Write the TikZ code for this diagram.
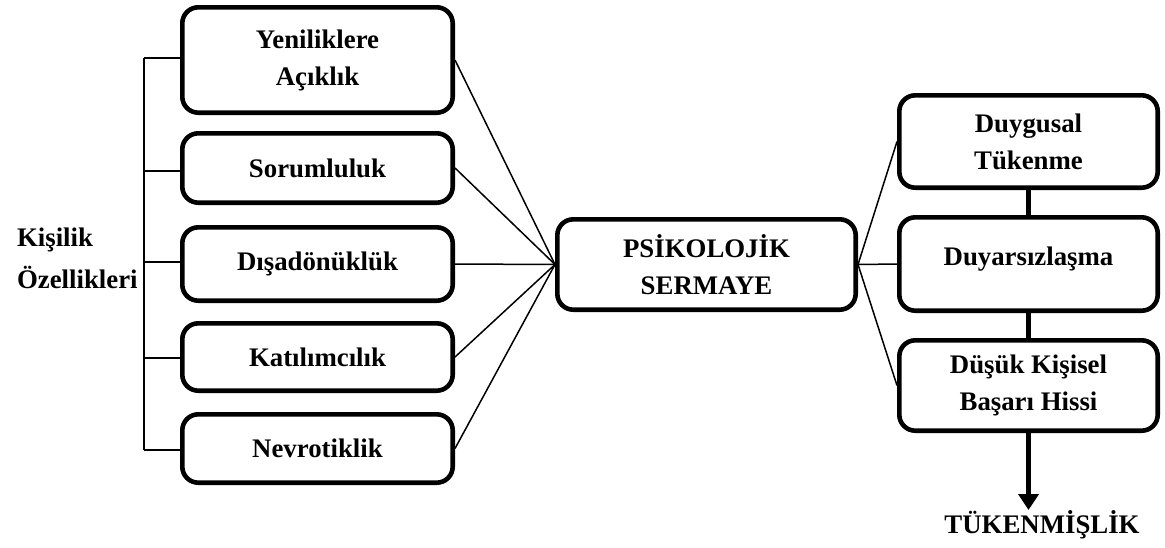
\documentclass[tikz,border=0pt]{standalone}
\usepackage{fontspec}
\setmainfont{Liberation Serif}
\usetikzlibrary{arrows.meta}
\begin{document}
\begin{tikzpicture}[x=0.5pt,y=-0.5pt,
  txt/.style={font=\bfseries\fontsize{13.4}{18.5}\selectfont},
  box/.style={txt,draw,line width=2.3pt,rounded corners=8pt,align=center,inner sep=0pt},
  leftbox/.style={box,minimum width=135.2pt},
  rightbox/.style={box,minimum width=129.2pt},
  thinlink/.style={line width=0.75pt},
  thicklink/.style={line width=2.2pt}]
\useasboundingbox (0,0) rectangle (1165,547);

% personality traits
\node[leftbox,minimum height=52.7pt] (yen) at (317.5,60)  {Yeniliklere\\Açıklık};
\node[leftbox,minimum height=34.7pt] (sor) at (317.5,168) {Sorumluluk};
\node[leftbox,minimum height=36.7pt] (dis) at (317.5,264) {Dışadönüklük};
\node[leftbox,minimum height=33.7pt] (kat) at (317.5,357) {Katılımcılık};
\node[leftbox,minimum height=34.2pt] (nev) at (317.5,448.5) {Nevrotiklik};

\node[txt,anchor=west,align=left,font=\bfseries\fontsize{13.4}{21}\selectfont] (kis) at (10,258) {Kişilik\\Özellikleri};

% psychological capital
\node[box,minimum width=149.2pt,minimum height=45.2pt] (psi) at (706.5,264.5) {PSİKOLOJİK\\SERMAYE};

% burnout dimensions
\node[rightbox,minimum height=46.2pt] (duy) at (1028.5,141.5) {Duygusal\\Tükenme};
\node[rightbox,minimum height=46.7pt] (dyr) at (1028.5,264) {\raisebox{8pt}{Duyarsızlaşma}};
\node[rightbox,minimum height=45.2pt] (dus) at (1028.5,385.5) {Düşük Kişisel\\Başarı Hissi};

\node[txt] (tuk) at (1042,525) {TÜKENMİŞLİK};
\coordinate (tip) at (1028.5,510);

% bracket on the left
\coordinate (b1) at (144,58);
\coordinate (b2) at (144,171);
\coordinate (b3) at (144,262);
\coordinate (b4) at (144,358);
\coordinate (b5) at (144,450);
\draw[thinlink] (b1) -- (b5);
\draw[thinlink] (b1) -- (b1 -| yen.west);
\draw[thinlink] (b2) -- (b2 -| sor.west);
\draw[thinlink] (b3) -- (b3 -| dis.west);
\draw[thinlink] (b4) -- (b4 -| kat.west);
\draw[thinlink] (b5) -- (b5 -| nev.west);

% traits to psychological capital
\foreach \n in {yen,sor,dis,kat,nev}
  \draw[thinlink] (\n.east) -- (psi.west);

% psychological capital to burnout dimensions
\draw[thinlink] (psi.east) -- (duy.west);
\draw[thinlink] (psi.east) -- (dyr.west);
\draw[thinlink] (psi.east) -- (dus.west);

% links between burnout dimensions
\draw[thicklink] (duy.south) -- (dyr.north);
\draw[thicklink] (dyr.south) -- (dus.north);
\draw[thicklink,-{Triangle[width=10pt,length=8pt]}] (dus.south) -- (tip);
\end{tikzpicture}
\end{document}
